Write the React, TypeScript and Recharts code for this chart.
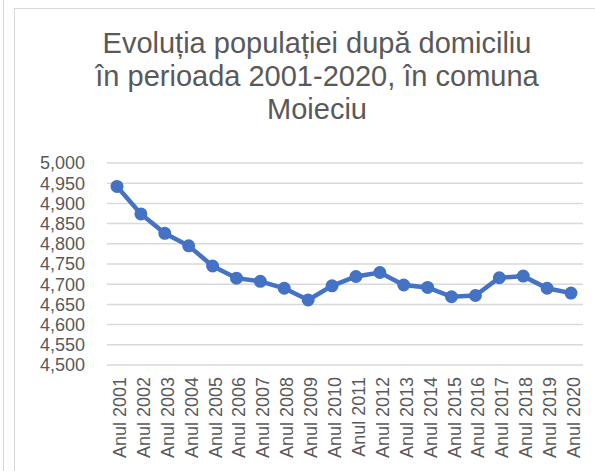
import { LineChart, Line, XAxis, YAxis, CartesianGrid } from "recharts";

// Population by domicile, Moieciu, 2001-2020
const years = [
  "Anul 2001", "Anul 2002", "Anul 2003", "Anul 2004", "Anul 2005",
  "Anul 2006", "Anul 2007", "Anul 2008", "Anul 2009", "Anul 2010",
  "Anul 2011", "Anul 2012", "Anul 2013", "Anul 2014", "Anul 2015",
  "Anul 2016", "Anul 2017", "Anul 2018", "Anul 2019", "Anul 2020",
];
const population = [
  4942, 4874, 4826, 4795, 4745, 4715, 4707, 4690, 4661, 4696,
  4719, 4729, 4698, 4692, 4669, 4672, 4716, 4720, 4690, 4678,
];
const yTicks = [4500, 4550, 4600, 4650, 4700, 4750, 4800, 4850, 4900, 4950, 5000];
const titleLines = [
  "Evoluția populației după domiciliu",
  "în perioada 2001-2020, în comuna",
  "Moieciu",
];

const data = years.map((name, i) => ({ name, value: population[i] }));

const FONT = "'Liberation Sans', Arial, sans-serif";
const TEXT = "#595959";
const BLUE = "#4472C4";

const YearTick = (props: any) => {
  const { x, y, payload } = props;
  return (
    <text
      x={x}
      y={y}
      dy={9}
      transform={`rotate(-90, ${x}, ${y})`}
      textAnchor="end"
      fill={TEXT}
      fontSize={18}
      fontFamily={FONT}
    >
      {payload.value}
    </text>
  );
};

const App = () => {
  return (
    <div style={{ position: "absolute", left: 0, top: 0, width: 595, height: 471, overflow: "hidden", background: "#fff" }}>
      {/* frame edges */}
      <div style={{ position: "absolute", left: 3, top: 0, width: 1, height: 471, background: "#d9d9d9" }} />
      <div style={{ position: "absolute", left: 14, top: 8, width: 640, height: 500, border: "1px solid #d9d9d9" }} />
      <div
        style={{
          position: "absolute",
          left: 17,
          width: 600,
          top: 27,
          textAlign: "center",
          fontFamily: FONT,
          fontSize: 29,
          lineHeight: "33px",
          color: TEXT,
        }}
      >
        {titleLines.map((t) => (
          <div key={t}>{t}</div>
        ))}
      </div>
      <div style={{ position: "absolute", left: 0, top: 0 }}>
        <LineChart width={595} height={471} data={data} margin={{ top: 163, right: 12, bottom: 0, left: 0 }}>
          <CartesianGrid vertical={false} stroke="#d9d9d9" strokeWidth={1.5} />
          <XAxis
            dataKey="name"
            interval={0}
            height={106}
            padding={{ left: 10, right: 12 }}
            axisLine={false}
            tickLine={false}
            tickSize={0}
            tickMargin={12}
            tick={<YearTick />}
          />
          <YAxis
            width={107}
            domain={[4500, 5000]}
            ticks={yTicks}
            interval={0}
            axisLine={false}
            tickLine={false}
            tickSize={6}
            tickMargin={16}
            tickFormatter={(v: number) => v.toLocaleString("en-US")}
            tick={{ fill: TEXT, fontSize: 18, fontFamily: FONT }}
          />
          <Line
            type="linear"
            dataKey="value"
            stroke={BLUE}
            strokeWidth={4.5}
            dot={{ r: 5.5, fill: BLUE, stroke: BLUE, strokeWidth: 2 }}
            isAnimationActive={false}
          />
        </LineChart>
      </div>
    </div>
  );
};

export default App;
